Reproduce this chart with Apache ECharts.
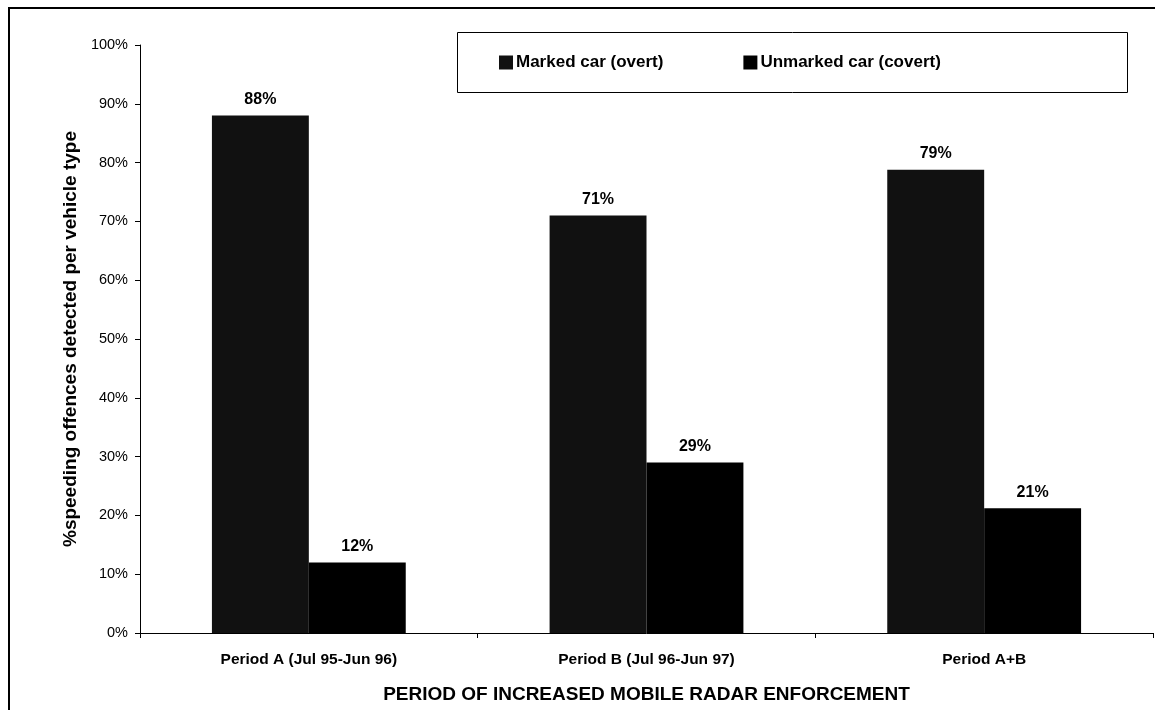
<!DOCTYPE html>
<html>
<head>
<meta charset="utf-8">
<script src="https://cdn.jsdelivr.net/npm/echarts@6/dist/echarts.min.js"></script>
<style>
  html, body { margin: 0; padding: 0; background: #fff; }
  #chart { width: 1155px; height: 710px; }
</style>
</head>
<body>
<div id="chart"></div>
<script>
// periods of enforcement
var categories = ['Period A (Jul 95-Jun 96)', 'Period B (Jul 96-Jun 97)', 'Period A+B'];
// share of offences detected, %
var markedCar = [88, 71, 78.8];
var unmarkedCar = [12, 29, 21.2];
var yTicks = { min: 0, max: 100, interval: 10 };

var font = 'Arial, "Liberation Sans", sans-serif';
var chart = echarts.init(document.getElementById('chart'));

function pctLabel(p) {
    return Math.round(p.value) + '%';
}

chart.setOption({
    backgroundColor: '#fff',
    animation: false,
    textStyle: { fontFamily: font },
    grid: { left: 140, right: 2, top: 45, bottom: 77 },
    graphic: [
        // outer frame (left + top only, cut off at right/bottom)
        { type: 'line', shape: { x1: 9, y1: 8, x2: 9, y2: 710 }, style: { stroke: '#000', lineWidth: 2 } },
        { type: 'line', shape: { x1: 8, y1: 8, x2: 1155, y2: 8 }, style: { stroke: '#000', lineWidth: 2 } },
        // legend box
        { type: 'rect', shape: { x: 457.5, y: 32.5, width: 670, height: 60 },
          style: { fill: '#fff', stroke: '#000', lineWidth: 1 }, z: 1 }
    ],
    legend: {
        left: 494, top: 49,
        itemWidth: 14, itemHeight: 14, itemGap: 80,
        icon: 'rect',
        z: 5,
        textStyle: { fontFamily: font, fontWeight: 'bold', fontSize: 17, color: '#000', padding: [0, 0, 0, -2] },
        data: ['Marked car (overt)', 'Unmarked car (covert)']
    },
    xAxis: {
        type: 'category',
        data: categories,
        name: 'PERIOD OF INCREASED MOBILE RADAR ENFORCEMENT',
        nameLocation: 'middle',
        nameGap: 52,
        nameTextStyle: { fontFamily: font, fontWeight: 'bold', fontSize: 19, color: '#000' },
        axisLine: { lineStyle: { color: '#000', width: 1 } },
        axisTick: { show: true, length: 5, lineStyle: { color: '#000' } },
        axisLabel: { fontFamily: font, fontWeight: 'bold', fontSize: 15.5, color: '#000', margin: 19 }
    },
    yAxis: {
        type: 'value',
        min: yTicks.min, max: yTicks.max, interval: yTicks.interval,
        name: '%speeding offences detected per vehicle type',
        nameLocation: 'middle',
        nameGap: 58,
        nameRotate: 90,
        nameTextStyle: { fontFamily: font, fontWeight: 'bold', fontSize: 19, color: '#000' },
        axisLine: { show: true, lineStyle: { color: '#000', width: 1 } },
        axisTick: { show: true, length: 5, lineStyle: { color: '#000' } },
        splitLine: { show: false },
        axisLabel: { formatter: '{value}%', fontFamily: font, fontSize: 14.5, color: '#000', margin: 12 }
    },
    series: [
        {
            name: 'Marked car (overt)',
            type: 'bar',
            data: markedCar,
            barGap: '0%',
            barCategoryGap: '42.6%',
            itemStyle: { color: '#111111' },
            label: { show: true, position: 'top', distance: 8, formatter: pctLabel,
                     fontFamily: font, fontWeight: 'bold', fontSize: 16, color: '#000' }
        },
        {
            name: 'Unmarked car (covert)',
            type: 'bar',
            data: unmarkedCar,
            barGap: '0%',
            barCategoryGap: '42.6%',
            itemStyle: { color: '#000000' },
            label: { show: true, position: 'top', distance: 8, formatter: pctLabel,
                     fontFamily: font, fontWeight: 'bold', fontSize: 16, color: '#000' }
        }
    ]
});
</script>
</body>
</html>
